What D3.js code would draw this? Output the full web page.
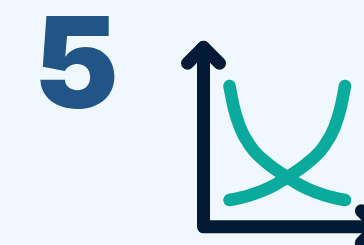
<!DOCTYPE html>
<html>
<head>
<meta charset="utf-8">
<script src="https://cdn.jsdelivr.net/npm/d3@7"></script>
<style>
  html, body { margin: 0; padding: 0; background: #f0f7fe; }
  svg { display: block; }
</style>
</head>
<body>
<div id="chart"></div>
<script>
// data: two crossing curves (one falling, one rising)
const label = "5";
const fallX = [0, 0.4, 0.9, 1.9, 3.3, 5, 6.5, 8.3, 10];
const fallY = [10, 8, 6.4, 4.6, 3.2, 2, 1.1, 0.4, 0];
const riseX = [0, 1.7, 3.5, 5, 6.7, 8.1, 9.1, 9.6, 10];
const riseY = [0, 0.4, 1.1, 2, 3.2, 4.6, 6.4, 8, 10];

const W = 364, H = 245;
const navy = "#031a37", teal = "#0aab9c", blue = "#225587";

const svg = d3.select("#chart").append("svg")
  .attr("width", W).attr("height", H);

svg.append("rect").attr("width", W).attr("height", H).attr("fill", "#f0f7fe");

// big number
svg.append("text")
  .attr("x", 0).attr("y", 0)
  .attr("transform", "translate(34,108) scale(1.01,1)")
  .attr("font-family", "Inter, 'Noto Sans', sans-serif")
  .attr("font-weight", 900)
  .attr("font-size", 126)
  .attr("fill", blue)
  .text(label);

// scales
const x = d3.scaleLinear().domain([0, 10]).range([229.5, 345]);
const y = d3.scaleLinear().domain([0, 10]).range([200, 86]);

// axis frame (origin below/left of the curves)
const ox = x(-2.25), oy = y(-2.35);
const axisTop = y(13.4), axisRight = x(12.8);
const head = 16;

const axes = svg.append("g")
  .attr("fill", "none")
  .attr("stroke", navy)
  .attr("stroke-width", 13)
  .attr("stroke-linecap", "round")
  .attr("stroke-linejoin", "round");

axes.append("path")
  .attr("d", `M${ox},${axisTop} L${ox},${oy} L${axisRight},${oy}`);
axes.append("path")
  .attr("d", `M${ox - head},${axisTop + head} L${ox},${axisTop} L${ox + head},${axisTop + head}`);
axes.append("path")
  .attr("d", `M${axisRight - head},${oy - head} L${axisRight},${oy} L${axisRight - head},${oy + head}`);

// curves
const line = d3.line()
  .x(d => x(d[0]))
  .y(d => y(d[1]))
  .curve(d3.curveMonotoneX);

[d3.zip(fallX, fallY), d3.zip(riseX, riseY)].forEach(pts => {
  svg.append("path")
    .datum(pts)
    .attr("d", line)
    .attr("fill", "none")
    .attr("stroke", teal)
    .attr("stroke-width", 12.5)
    .attr("stroke-linecap", "round");
});
</script>
</body>
</html>
